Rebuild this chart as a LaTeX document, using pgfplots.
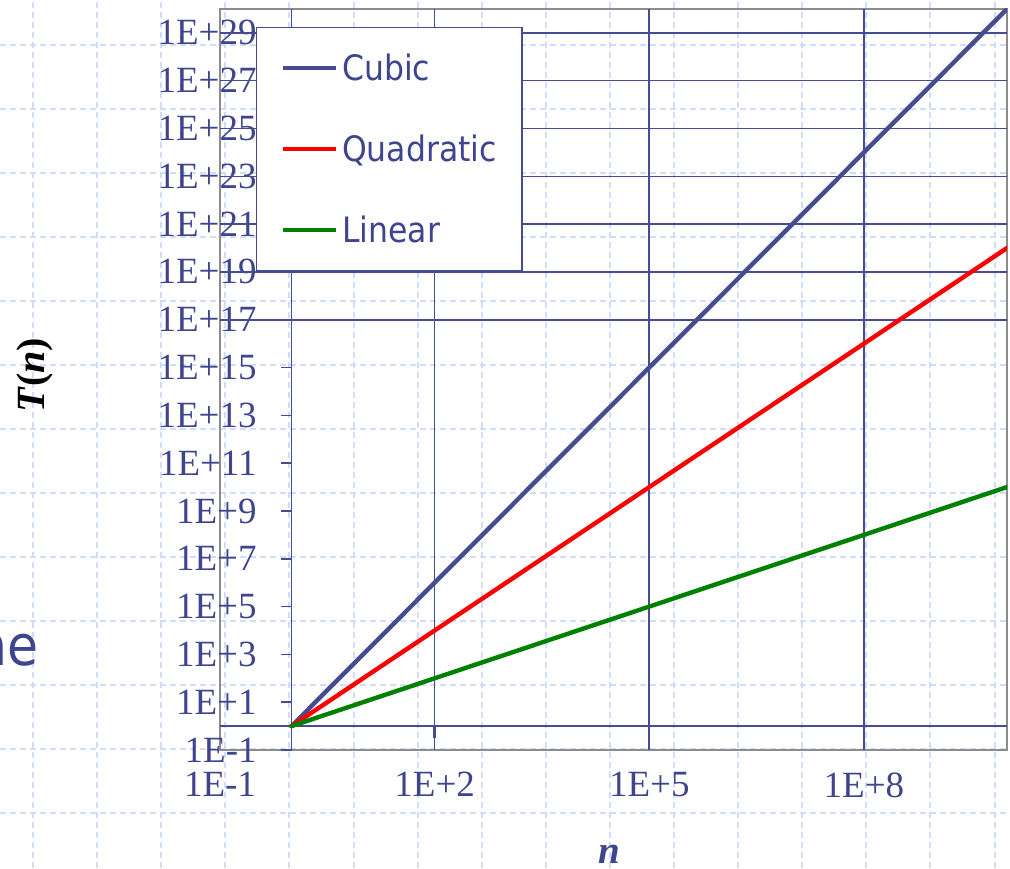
\documentclass[border=0pt]{standalone}
\usepackage{pgfplots}
\pgfplotsset{compat=1.18}
\usepackage{fontspec}
\setmainfont{Liberation Serif}
\newfontfamily\slidefont[FakeStretch=0.9]{DejaVu Sans}

\definecolor{navy}{RGB}{70,76,145}
\definecolor{navytext}{RGB}{62,69,142}
\definecolor{framegray}{RGB}{140,140,140}
\definecolor{slidegrid}{RGB}{208,220,250}
\definecolor{cubiccol}{RGB}{70,76,145}
\definecolor{quadcol}{RGB}{255,0,0}
\definecolor{lincol}{RGB}{0,128,0}

\begin{document}
\begin{tikzpicture}
% dashed slide background grid
\begin{scope}[slidegrid, line width=1pt, dash pattern=on 3pt off 2pt]
  \foreach \k in {0,...,15} \draw ({16.5pt+32.05pt*\k},0pt) -- ({16.5pt+32.05pt*\k},434pt);
  \foreach \k in {0,...,12} \draw (0pt,{411.5pt-32pt*\k}) -- (505pt,{411.5pt-32pt*\k});
\end{scope}

% slide body text running behind the chart
\node[anchor=base east, inner sep=0pt, text=navytext, font=\slidefont\fontsize{28}{30}\selectfont] at (19.5pt,101.5pt) {ne};

\begin{axis}[
  at={(110pt,59pt)}, anchor=south west,
  scale only axis, width=393.5pt, height=370.5pt,
  xmode=log, ymode=log,
  xmin=1e-1, xmax=1e10, ymin=1e-1, ymax=1e30,
  axis line style={draw=framegray, line width=1pt},
  xtick={1e-1,1e2,1e5,1e8},
  xticklabels={1E-1,1E+2,1E+5,1E+8},
  ytick={1e-1,1e1,1e3,1e5,1e7,1e9,1e11,1e13,1e15,1e17,1e19,1e21,1e23,1e25,1e27,1e29},
  yticklabels={1E-1,1E+1,1E+3,1E+5,1E+7,1E+9,1E+11,1E+13,1E+15,1E+17,1E+19,1E+21,1E+23,1E+25,1E+27,1E+29},
  xminorticks=false, yminorticks=false,
  major tick length=0pt, tick style={draw=none},
  ticklabel style={font=\fontsize{18.5}{20}\selectfont, text=navytext},
  xticklabel style={anchor=north, inner sep=0pt, yshift=-11pt},
  yticklabel style={anchor=east, inner sep=0pt, xshift=18.5pt},
  legend style={at={(0.0457,0.9757)}, anchor=north west, draw=navy, line width=0.75pt,
    fill=white, inner xsep=12pt, inner ysep=0pt, column sep=2pt,
    font=\slidefont\fontsize{17.5}{19}\selectfont, text=navytext,
    nodes={inner sep=0pt, minimum height=40.5pt}},
  legend cell align=left,
  legend image code/.code={\draw[#1, line cap=butt] (0pt,0pt) -- (26.5pt,0pt);},
]
% chart grid: axes crossing at n = 1 and T(n) = 1
\draw[navy, line width=0.8pt] (axis cs:1,1e-1) -- (axis cs:1,1e30);
\draw[navy, line width=0.8pt] (axis cs:1e-1,1) -- (axis cs:1e10,1);
\pgfplotsinvokeforeach{2,5,8}{
  \draw[navy, line width=0.8pt] (axis cs:1e#1,1e-1) -- (axis cs:1e#1,1e30);
  \draw[navy, line width=1.2pt] (axis cs:1e#1,1) -- ++(0pt,-6pt);
}
\pgfplotsinvokeforeach{17,19,21,23,25,27,29}{
  \draw[navy, line width=0.8pt] (axis cs:1e-1,1e#1) -- (axis cs:1e10,1e#1);
}
\pgfplotsinvokeforeach{-1,1,3,5,7,9,11,13,15,17,19,21,23,25,27,29}{
  \draw[navy, line width=0.8pt] (axis cs:1,1e#1) -- ++(-5.5pt,0pt);
}

\addplot[cubiccol, line width=2.2pt, line cap=round] coordinates {
  (1,1) (10,1e3) (100,1e6) (1e3,1e9) (1e4,1e12) (1e5,1e15)
  (1e6,1e18) (1e7,1e21) (1e8,1e24) (1e9,1e27) (1e10,1e30)};
\addlegendentry{Cubic}
\addplot[quadcol, line width=2.2pt, line cap=round] coordinates {
  (1,1) (10,1e2) (100,1e4) (1e3,1e6) (1e4,1e8) (1e5,1e10)
  (1e6,1e12) (1e7,1e14) (1e8,1e16) (1e9,1e18) (1e10,1e20)};
\addlegendentry{\makebox[78pt][l]{Quadratic}}
\addplot[lincol, line width=2.2pt, line cap=round] coordinates {
  (1,1) (10,10) (100,100) (1e3,1e3) (1e4,1e4) (1e5,1e5)
  (1e6,1e6) (1e7,1e7) (1e8,1e8) (1e9,1e9) (1e10,1e10)};
\addlegendentry{Linear}
\end{axis}

% axis titles
\node[rotate=90, text=black, font=\fontsize{20}{22}\selectfont\bfseries] at (17.5pt,246.5pt) {\textit{T}(\textit{n})};
\node[anchor=base, inner sep=0pt, text=navytext, font=\fontsize{19.5}{21}\selectfont\bfseries\itshape] at (304.5pt,2.5pt) {n};

\pgfresetboundingbox
\path[use as bounding box] (0pt,0pt) rectangle (505pt,434pt);
\end{tikzpicture}
\end{document}
